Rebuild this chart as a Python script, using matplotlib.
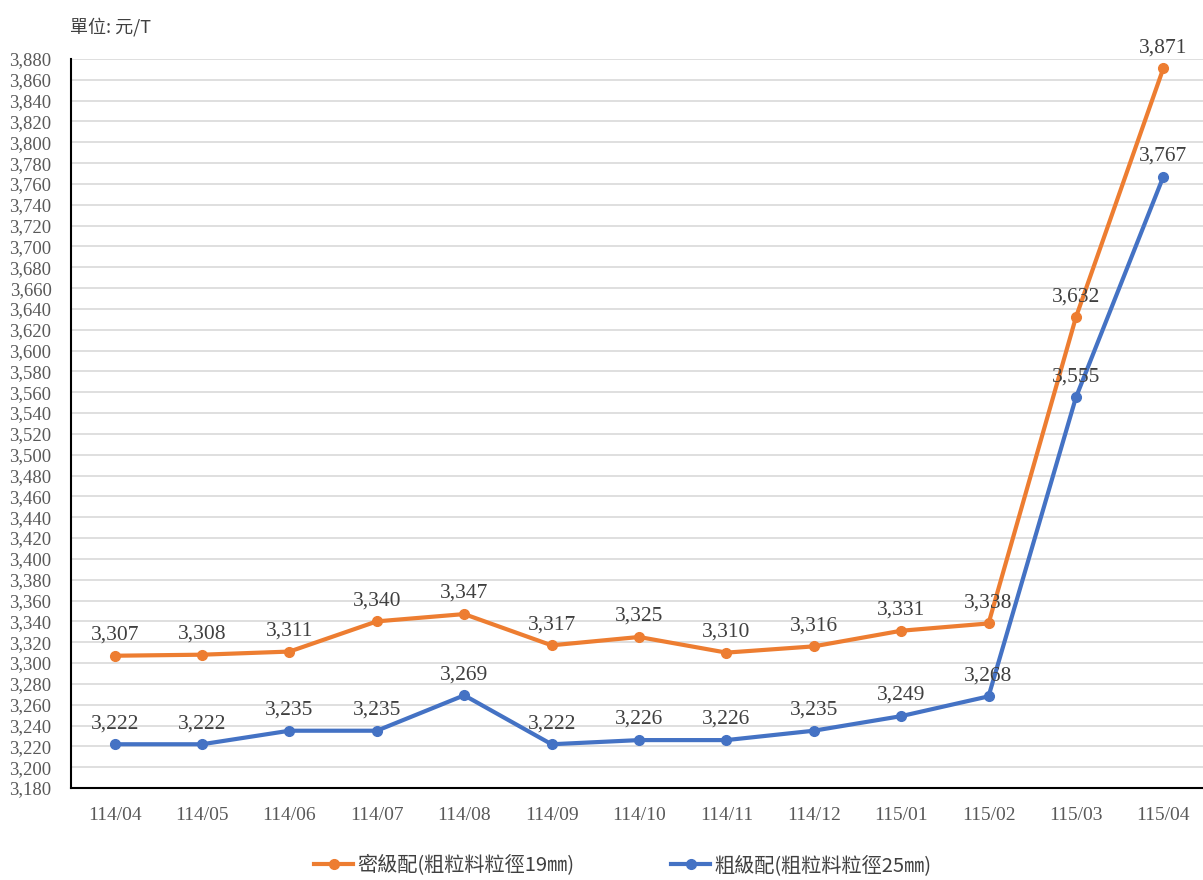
import matplotlib
matplotlib.use("Agg")
import matplotlib.pyplot as plt
from matplotlib.ticker import FuncFormatter, MultipleLocator

months = ["114/04", "114/05", "114/06", "114/07", "114/08", "114/09", "114/10",
          "114/11", "114/12", "115/01", "115/02", "115/03", "115/04"]
dense = [3307, 3308, 3311, 3340, 3347, 3317, 3325, 3310, 3316, 3331, 3338, 3632, 3871]
coarse = [3222, 3222, 3235, 3235, 3269, 3222, 3226, 3226, 3235, 3249, 3268, 3555, 3767]
dense_label = "密級配(粗粒料粒徑19㎜)"
coarse_label = "粗級配(粗粒料粒徑25㎜)"
unit_label = "單位: 元/T"

serif = ["Liberation Serif", "Noto Sans CJK TC", "DejaVu Sans"]
cjk = ["Noto Sans CJK TC", "Liberation Serif", "DejaVu Sans"]
plt.rcParams['font.family'] = serif

fig = plt.figure(figsize=(12.03, 8.8), dpi=100)
ax = fig.add_axes([71/1203, 92/880, 1136/1203, 729/880])

x = list(range(len(months)))
orange = "#ED7D31"
blue = "#4472C4"
ax.plot(x, dense, color=orange, lw=3, marker="o", ms=7, label=dense_label, zorder=3)
ax.plot(x, coarse, color=blue, lw=3, marker="o", ms=7, label=coarse_label, zorder=3)

for xi, v in zip(x, dense):
    ax.annotate(f"{v:,}", (xi, v), xytext=(0, 8), textcoords="offset points",
                ha="center", va="bottom", fontsize=15.5, color="#404040")
for xi, v in zip(x, coarse):
    ax.annotate(f"{v:,}", (xi, v), xytext=(0, 8), textcoords="offset points",
                ha="center", va="bottom", fontsize=15.5, color="#404040")

ax.set_xlim(-0.5, len(months) - 0.5)
ax.set_ylim(3180, 3880)
ax.yaxis.set_major_locator(MultipleLocator(20))
ax.yaxis.set_major_formatter(FuncFormatter(lambda v, p: f"{int(v):,}"))
ax.set_xticks(x)
ax.set_xticklabels(months)
ax.tick_params(axis="both", length=0, colors="#595959")
ax.tick_params(axis="y", labelsize=13.5, pad=14)
ax.tick_params(axis="x", labelsize=14, pad=14)
ax.grid(axis="y", color="#d9d9d9", lw=1.2)
ax.set_axisbelow(True)
for s in ["top", "right"]:
    ax.spines[s].set_visible(False)
for s in ["left", "bottom"]:
    ax.spines[s].set_color("#000000")
    ax.spines[s].set_linewidth(1.5)

fig.text(70/1203, 1 - 27/880, unit_label, fontsize=13, family=cjk, color="#404040",
         ha="left", va="center")

leg = fig.legend(loc="center", bbox_to_anchor=(0.518, 14/880), ncol=2, frameon=False,
                 prop={"family": cjk, "size": 14.5}, columnspacing=4.8, handlelength=1.9,
                 handletextpad=0.25, borderpad=0.1)
for t in leg.get_texts():
    t.set_color("#404040")

fig.savefig("out.png", dpi=100)
